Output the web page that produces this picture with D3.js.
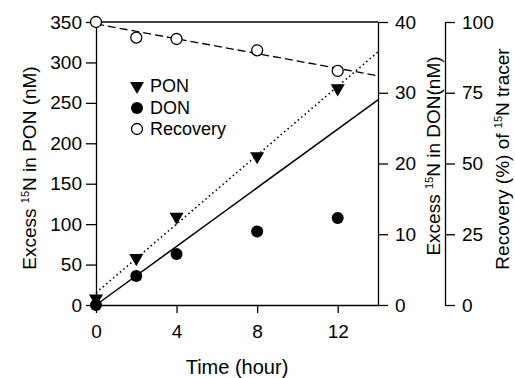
<!DOCTYPE html>
<html lang="en">
<head>
  <meta charset="UTF-8">
  <title>15N tracer over time</title>
  <style>
    body {
      margin: 0;
      padding: 0;
      background-color: white;
    }
    svg text {
      font-family: "Liberation Sans", Arial, sans-serif;
      fill: black;
    }
    .axis path, .axis line {
      stroke: black;
      stroke-width: 1.3;
    }
    .axis text {
      font-size: 19px;
    }
    .title {
      font-size: 19px;
    }
    .legend text {
      font-size: 18px;
    }
  </style>
</head>
<body>
  <div id="chart"></div>

  <script src="https://d3js.org/d3.v7.min.js"></script>
  <script>
    // time points (hour)
    var hours = [0, 2, 4, 8, 12];
    // excess 15N in PON (nM), left axis
    var pon = [8, 58, 109, 184, 268];
    // excess 15N in DON (nM), first right axis
    var don = [0, 4.1, 7.2, 10.4, 12.3];
    // recovery (%) of 15N tracer, second right axis
    var recovery = [100, 94.5, 94, 90, 82.7];

    // fitted lines: [hour, value]
    var ponFit = [[0, 15], [14, 313]];
    var donFit = [[0, 0], [14, 29]];
    var recFit = [[0, 99.3], [14, 81]];

    var xTicks = [0, 4, 8, 12];
    var ponTicks = [0, 50, 100, 150, 200, 250, 300, 350];
    var donTicks = [0, 10, 20, 30, 40];
    var recTicks = [0, 25, 50, 75, 100];

    var width = 515, height = 378;

    var svg = d3.select("#chart").append("svg")
                .attr("width", width)
                .attr("height", height);

    var x = d3.scaleLinear().domain([0, 14]).range([96, 378]);
    var yPon = d3.scaleLinear().domain([0, 350]).range([305, 22]);
    var yDon = d3.scaleLinear().domain([0, 40]).range([305, 22]);
    var yRec = d3.scaleLinear().domain([0, 100]).range([305, 22]);

    // top frame line
    svg.append("line")
       .attr("x1", x(0)).attr("x2", x(14))
       .attr("y1", yPon(350)).attr("y2", yPon(350))
       .attr("stroke", "black")
       .attr("stroke-width", 1.3);

    // axes
    svg.append("g")
       .attr("class", "axis")
       .attr("transform", "translate(0," + yPon(0) + ")")
       .call(d3.axisBottom(x).tickValues(xTicks).tickSize(8).tickSizeOuter(0).tickPadding(12));

    svg.append("g")
       .attr("class", "axis")
       .attr("transform", "translate(" + x(0) + ",0)")
       .call(d3.axisLeft(yPon).tickValues(ponTicks).tickSize(10).tickSizeOuter(0).tickPadding(4));

    svg.append("g")
       .attr("class", "axis")
       .attr("transform", "translate(" + x(14) + ",0)")
       .call(d3.axisRight(yDon).tickValues(donTicks).tickSize(10).tickSizeOuter(0).tickPadding(7));

    svg.append("g")
       .attr("class", "axis")
       .attr("transform", "translate(445,0)")
       .call(d3.axisRight(yRec).tickValues(recTicks).tickSize(10).tickSizeOuter(0).tickPadding(7));

    // axis titles
    svg.append("text")
       .attr("class", "title")
       .attr("x", 237).attr("y", 374)
       .attr("text-anchor", "middle")
       .style("font-size", "20px")
       .text("Time (hour)");

    function rotatedTitle(cx, cy, before, after) {
      var t = svg.append("text")
                 .attr("class", "title")
                 .attr("text-anchor", "middle")
                 .attr("transform", "translate(" + cx + "," + cy + ") rotate(-90)");
      t.append("tspan").text(before);
      t.append("tspan").attr("dy", -7).style("font-size", "11px").text("15");
      t.append("tspan").attr("dy", 7).text(after);
    }
    rotatedTitle(36, 168, "Excess ", "N in PON (nM)");
    rotatedTitle(440, 156, "Excess ", "N in DON(nM)");
    rotatedTitle(509, 159, "Recovery (%) of ", "N tracer");

    // fitted lines
    var lineFor = function(scale) {
      return d3.line().x(function(d) { return x(d[0]); }).y(function(d) { return scale(d[1]); });
    };

    svg.append("path")
       .datum(ponFit)
       .attr("d", lineFor(yPon))
       .attr("fill", "none")
       .attr("stroke", "black")
       .attr("stroke-width", 1.6)
       .attr("stroke-dasharray", "1.5,3");

    svg.append("path")
       .datum(donFit)
       .attr("d", lineFor(yDon))
       .attr("fill", "none")
       .attr("stroke", "black")
       .attr("stroke-width", 1.5);

    svg.append("path")
       .datum(recFit)
       .attr("d", lineFor(yRec))
       .attr("fill", "none")
       .attr("stroke", "black")
       .attr("stroke-width", 1.3)
       .attr("stroke-dasharray", "8,4");

    // markers
    var tri = d3.symbol().type(d3.symbolTriangle).size(85);

    svg.selectAll(".pon")
       .data(hours)
       .enter().append("path")
       .attr("class", "pon")
       .attr("d", tri)
       .attr("transform", function(d, i) { return "translate(" + x(d) + "," + yPon(pon[i]) + ") rotate(180)"; })
       .attr("fill", "black");

    svg.selectAll(".don")
       .data(hours)
       .enter().append("circle")
       .attr("class", "don")
       .attr("cx", function(d) { return x(d); })
       .attr("cy", function(d, i) { return yDon(don[i]); })
       .attr("r", 6)
       .attr("fill", "black");

    svg.selectAll(".rec")
       .data(hours)
       .enter().append("circle")
       .attr("class", "rec")
       .attr("cx", function(d) { return x(d); })
       .attr("cy", function(d, i) { return yRec(recovery[i]); })
       .attr("r", 5.5)
       .attr("fill", "white")
       .attr("stroke", "black")
       .attr("stroke-width", 1.3);

    // legend
    var legend = svg.append("g").attr("class", "legend");
    legend.append("path")
          .attr("d", tri)
          .attr("transform", "translate(137,86) rotate(180)")
          .attr("fill", "black");
    legend.append("circle")
          .attr("cx", 137).attr("cy", 108).attr("r", 6)
          .attr("fill", "black");
    legend.append("circle")
          .attr("cx", 137).attr("cy", 129).attr("r", 5.5)
          .attr("fill", "white").attr("stroke", "black").attr("stroke-width", 1.3);
    legend.selectAll(".lab")
          .data(["PON", "DON", "Recovery"])
          .enter().append("text")
          .attr("class", "lab")
          .attr("x", 150)
          .attr("y", function(d, i) { return 86 + i * 21.5; })
          .attr("dy", "0.36em")
          .text(function(d) { return d; });
  </script>
</body>
</html>
